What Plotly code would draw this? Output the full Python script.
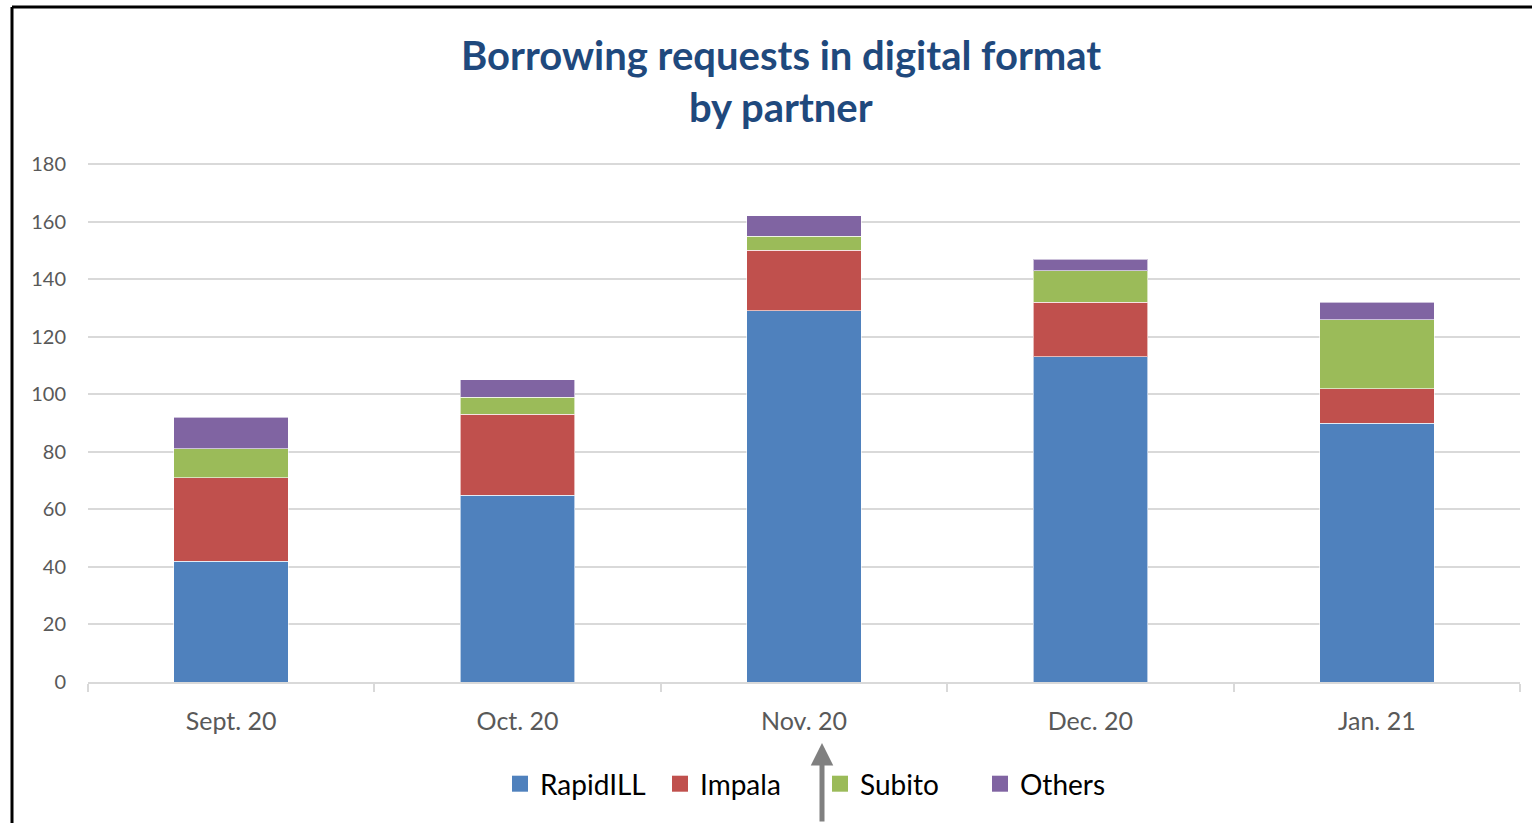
import plotly.graph_objects as go

months = ["Sept. 20", "Oct. 20", "Nov. 20", "Dec. 20", "Jan. 21"]
rapidill = [42, 65, 129, 113, 90]
impala = [29, 28, 21, 19, 12]
subito = [10, 6, 5, 11, 24]
others = [11, 6, 7, 4, 6]

series = [
    ("RapidILL", rapidill, "#4F81BD"),
    ("Impala", impala, "#C0504D"),
    ("Subito", subito, "#9BBB59"),
    ("Others", others, "#8064A2"),
]

W, H = 1532, 823
L, R, T, B = 88, 12, 163, 141
pw, ph = W - L - R, H - T - B


def px(x):
    return (x - L) / pw


def py(y):
    return (H - B - y) / ph


fig = go.Figure()
for name, vals, color in series:
    fig.add_trace(go.Bar(
        x=months, y=vals, name=name, showlegend=False,
        marker=dict(color=color, line=dict(color="rgba(255,255,255,0.6)", width=1)),
    ))
# legend entries with larger square swatches
for name, vals, color in series:
    fig.add_trace(go.Scatter(
        x=[None], y=[None], name=name, mode="markers",
        marker=dict(symbol="square", size=17, color=color),
    ))

grid = "#D9D9D9"
fig.update_layout(
    width=W, height=H,
    margin=dict(l=L, r=R, t=T, b=B),
    barmode="stack", bargap=0.6,
    plot_bgcolor="white", paper_bgcolor="white",
    font=dict(family="Lato, Calibri, sans-serif", color="#595959"),
    showlegend=True,
    legend=dict(
        orientation="h", x=px(820), xanchor="center", y=py(784), yanchor="middle",
        font=dict(size=28, color="#000000"), traceorder="normal",
        itemwidth=30, entrywidth=115, entrywidthmode="pixels",
        bgcolor="rgba(0,0,0,0)",
    ),
    xaxis=dict(
        type="category", tickson="boundaries", ticks="outside", ticklen=8,
        tickcolor=grid, tickwidth=1.5, showline=True, linecolor=grid, linewidth=1.5,
        showgrid=False, tickfont=dict(size=25, color="#595959"),
        ticklabelstandoff=16,
    ),
    yaxis=dict(
        range=[0, 180.4], tickvals=list(range(0, 181, 20)), showgrid=True,
        gridcolor=grid, gridwidth=1.5,
        zeroline=False, showline=False, tickfont=dict(size=20, color="#595959"),
        ticklabelstandoff=21,
    ),
    shapes=[
        dict(type="line", xref="paper", yref="paper", x0=px(12), x1=px(1534),
             y0=py(7), y1=py(7), line=dict(color="black", width=3)),
        dict(type="line", xref="paper", yref="paper", x0=px(12), x1=px(12),
             y0=py(7), y1=py(830), line=dict(color="black", width=3)),
    ],
    annotations=[
        dict(text="<b>Borrowing requests in digital format</b>", xref="paper", yref="paper",
             x=px(781), y=py(55), xanchor="center", yanchor="middle", showarrow=False,
             font=dict(size=40, color="#1F497D", family="Lato, Calibri, sans-serif")),
        dict(text="<b>by partner</b>", xref="paper", yref="paper",
             x=px(781), y=py(107), xanchor="center", yanchor="middle", showarrow=False,
             font=dict(size=40, color="#1F497D", family="Lato, Calibri, sans-serif")),
        dict(text="", xref="paper", yref="paper", x=px(822), y=py(743),
             ax=0, ay=90, showarrow=True, arrowhead=2, arrowsize=0.9, arrowwidth=5,
             arrowcolor="#808080"),
    ],
)

fig.write_html("out.html")
